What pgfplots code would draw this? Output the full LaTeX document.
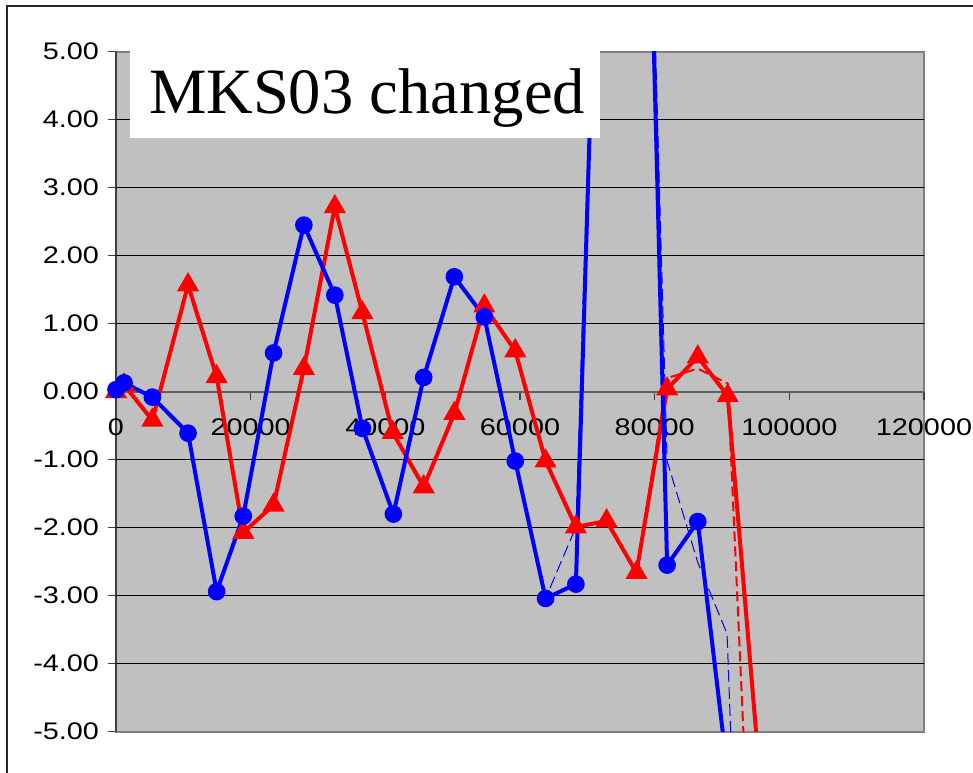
\documentclass[border=0pt]{standalone}
\usepackage{fontspec}
\usepackage{pgfplots}
\pgfplotsset{compat=1.18}
\setmainfont{Liberation Sans}
\newfontfamily\tickfont[FakeStretch=1.2]{Liberation Sans}
\newfontfamily\titlefont{Liberation Serif}
\definecolor{bggray}{HTML}{C0C0C0}
\definecolor{framegray}{HTML}{808080}
\definecolor{xaxgray}{HTML}{606060}
\definecolor{yaxgray}{HTML}{404040}
\begin{document}
\begin{tikzpicture}
\useasboundingbox (-58pt,-20.15pt) rectangle (428.5pt,365.85pt);
\begin{axis}[
  at={(0,0)}, anchor=south west,
  scale only axis, width=404pt, height=340pt,
  xmin=0, xmax=120000, ymin=-5, ymax=5,
  axis x line=middle, axis y line=left,
  axis line style={-},
  x axis line style={draw=xaxgray, line width=1pt},
  y axis line style={draw=yaxgray, line width=1pt},
  hide obscured x ticks=false, hide obscured y ticks=false,
  xtick={0,20000,...,120000}, ytick={-5,-4,...,5},
  tick align=outside, major tick length=4pt,
  tick style={line width=0.6pt, draw=yaxgray},
  extra y ticks={-4,-3,-2,-1,1,2,3,4},
  extra y tick labels={},
  extra y tick style={ymajorgrids=true, major tick length=0pt},
  grid style={draw=black, line width=0.6pt},
  axis background/.style={fill=bggray, draw=framegray, line width=1pt},
  scaled x ticks=false,
  /pgf/number format/assume math mode=true,
  tick label style={font=\tickfont\fontsize{12}{14}\selectfont},
  xticklabel style={yshift=-6pt, /pgf/number format/fixed, /pgf/number format/1000 sep={}},
  yticklabel style={xshift=-1pt, /pgf/number format/fixed, /pgf/number format/fixed zerofill, /pgf/number format/precision=2},
]
% dashed (original) series
\addplot[blue, line width=0.5pt, dash pattern=on 6pt off 2.5pt] coordinates {
(0,0.03) (1200,0.13) (5400,-0.08) (10700,-0.61) (14950,-2.94) (18900,-1.83)
(23400,0.57) (27900,2.45) (32500,1.42) (36600,-0.54) (41200,-1.80) (45700,0.21)
(50250,1.69) (54700,1.10) (59300,-1.02) (63800,-3.04) (68300,-1.99) (72850,12)
(77300,15) (81850,-1.02) (86400,-2.51) (90750,-3.56) (95400,-16)
};
\addplot[red, line width=1pt, dash pattern=on 5pt off 2.5pt] coordinates {
(0,0.0) (1200,0.1) (5400,-0.42) (10700,1.57) (14950,0.22) (18900,-2.07)
(23400,-1.67) (27900,0.34) (32500,2.72) (36600,1.16) (41100,-0.60) (45700,-1.40)
(50250,-0.32) (54700,1.26) (59300,0.60) (63800,-1.02) (68300,-1.99) (72850,-1.90)
(77300,-2.66) (81850,0.20) (86400,0.34) (90850,0.12) (95400,-9.9)
};
% changed series
\addplot[red, line width=2pt, mark=triangle*, mark size=4.4pt, mark options={solid}] coordinates {
(0,0.0) (1200,0.1) (5400,-0.42) (10700,1.57) (14950,0.22) (18900,-2.07)
(23400,-1.67) (27900,0.34) (32500,2.72) (36600,1.16) (41100,-0.60) (45700,-1.40)
(50250,-0.32) (54700,1.26) (59300,0.60) (63800,-1.02) (68300,-1.99) (72850,-1.90)
(77300,-2.66) (81850,0.04) (86400,0.51) (90850,-0.06) (95400,-5.4)
};
\addplot[blue, line width=2pt, mark=*, mark size=3.4pt, mark options={solid}] coordinates {
(0,0.03) (1200,0.13) (5400,-0.08) (10700,-0.61) (14950,-2.94) (18900,-1.83)
(23400,0.57) (27900,2.45) (32500,1.42) (36600,-0.54) (41200,-1.80) (45700,0.21)
(50250,1.69) (54700,1.10) (59300,-1.02) (63800,-3.04) (68300,-2.83) (72850,12)
(77300,15) (81850,-2.55) (86400,-1.91) (90850,-5.62)
};
\end{axis}
\fill[white] (7pt,296.8pt) rectangle (242pt,341pt);
\node[anchor=base west, inner sep=0pt, font=\titlefont\fontsize{32.3}{38}\selectfont] at (16.3pt,309.2pt) {MKS03 changed};
\draw[line width=1pt, black!85] (-54.5pt,-25pt) -- (-54.5pt,362.85pt) -- (440pt,362.85pt);
\end{tikzpicture}
\end{document}
